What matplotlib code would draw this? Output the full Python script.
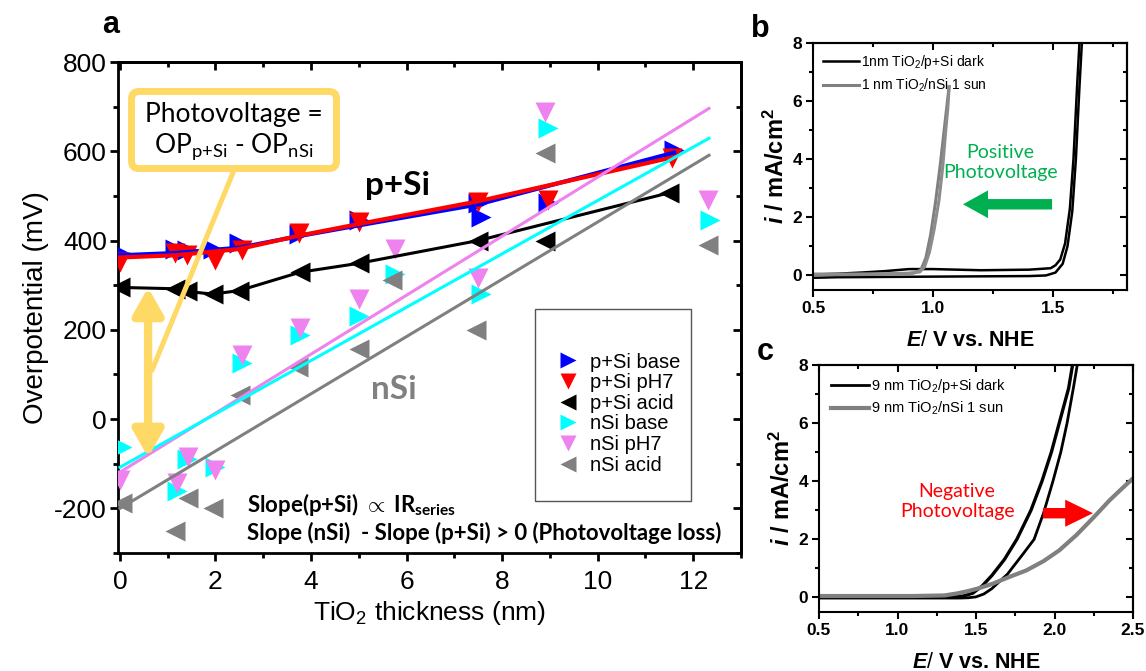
import numpy as np
import matplotlib
matplotlib.use('Agg')
import matplotlib.pyplot as plt
from matplotlib.patches import FancyBboxPatch, Rectangle
from matplotlib.ticker import MultipleLocator

plt.rcParams['font.family'] = ['Liberation Sans', 'DejaVu Sans']
plt.rcParams['mathtext.fontset'] = 'custom'
plt.rcParams['mathtext.rm'] = 'Liberation Sans'
plt.rcParams['mathtext.it'] = 'Liberation Sans:italic:bold'
plt.rcParams['mathtext.bf'] = 'Liberation Sans:bold'
plt.rcParams['axes.unicode_minus'] = False

ANNOT = ['Lato', 'DejaVu Sans']
ORANGE = '#FFD966'
GREEN = '#00B050'

# ---- panel a : overpotential vs TiO2 thickness (markers) ----
p_base_x = [0.0, 1.15, 1.4, 1.95, 2.5, 3.75, 5.0, 7.5, 7.55, 8.95, 11.6]
p_base_y = [371, 382, 378, 382, 394, 415, 445, 484, 452, 485, 602]
p_ph7_x = [0.0, 1.15, 1.4, 2.0, 2.55, 3.75, 5.0, 7.5, 8.95, 11.55]
p_ph7_y = [351, 371, 367, 356, 378, 418, 441, 486, 490, 586]
p_acid_x = [0.0, 1.15, 1.4, 1.95, 2.5, 3.77, 5.0, 7.5, 8.9, 11.5]
p_acid_y = [295, 292, 286, 280, 288, 329, 349, 400, 400, 507]

n_base_x = [0.05, 1.2, 1.4, 2.0, 2.55, 3.77, 5.0, 5.75, 7.55, 8.95, 12.35]
n_base_y = [-63, -160, -90, -108, 125, 188, 232, 326, 281, 653, 445]
n_ph7_x = [0.0, 1.2, 1.43, 2.0, 2.55, 3.77, 5.0, 5.75, 7.5, 8.9, 12.3]
n_ph7_y = [-137, -144, -86, -115, 143, 205, 270, 382, 315, 687, 490]
n_acid_x = [0.05, 1.15, 1.43, 1.95, 2.52, 3.73, 5.0, 5.7, 7.45, 8.9, 12.3]
n_acid_y = [-187, -250, -177, -199, 53, 116, 158, 311, 199, 597, 389]

# connecting lines of the p+Si series
line_base_x = [0.0, 1.15, 2.5, 3.75, 5.0, 7.5, 11.6]
line_base_y = [367, 372, 384, 410, 434, 481, 597]
line_ph7_x = [0.0, 1.15, 2.5, 3.75, 5.0, 7.5, 11.55]
line_ph7_y = [362, 367, 381, 411, 437, 488, 586]
line_acid_x = [0.0, 1.15, 1.4, 1.95, 2.5, 3.77, 5.0, 7.5, 11.5]
line_acid_y = [295, 292, 286, 280, 288, 329, 349, 400, 507]

# linear fits of the nSi data, read at both ends
fit_x = [0.0, 12.33]
fit_base = [-108, 629]
fit_ph7 = [-119, 696]
fit_acid = [-200, 591]

# ---- panel b : 1 nm TiO2 ----
b_dark_E1 = [0.50, 0.60, 0.80, 1.00, 1.20, 1.40, 1.47, 1.51, 1.54, 1.56, 1.58, 1.595, 1.61, 1.62]
b_dark_i1 = [-0.08, -0.06, -0.05, -0.04, -0.03, -0.02, 0.00, 0.10, 0.40, 1.00, 2.20, 4.00, 6.50, 8.00]
b_dark_E2 = [1.61, 1.60, 1.585, 1.57, 1.55, 1.53, 1.51, 1.49, 1.40, 1.20, 1.00, 0.90, 0.80, 0.70, 0.60, 0.50]
b_dark_i2 = [8.00, 6.50, 4.00, 2.30, 1.10, 0.55, 0.35, 0.25, 0.20, 0.18, 0.22, 0.22, 0.15, 0.10, 0.06, 0.03]
b_light_E1 = [0.50, 0.70, 0.85, 0.92, 0.95, 0.97, 0.99, 1.01, 1.03, 1.045, 1.06, 1.067]
b_light_i1 = [0.02, 0.03, 0.05, 0.08, 0.20, 0.60, 1.40, 2.50, 3.80, 4.90, 6.00, 6.50]
b_light_E2 = [1.067, 1.062, 1.052, 1.04, 1.025, 1.005, 0.985, 0.965, 0.945, 0.90, 0.80, 0.65, 0.50]
b_light_i2 = [6.50, 5.80, 4.90, 3.70, 2.60, 1.60, 0.80, 0.30, 0.12, 0.08, 0.06, 0.05, 0.05]
b_xticks = [0.5, 1.0, 1.5]

# ---- panel c : 9 nm TiO2 ----
c_dark_E1 = [0.50, 0.80, 1.10, 1.30, 1.40, 1.45, 1.50, 1.55, 1.60, 1.70, 1.80, 1.87, 1.93, 1.99, 2.04, 2.08, 2.12, 2.145]
c_dark_i1 = [-0.02, -0.02, -0.02, -0.02, -0.02, -0.01, 0.02, 0.12, 0.30, 0.80, 1.50, 2.00, 2.90, 4.00, 5.00, 6.00, 7.20, 8.00]
c_dark_E2 = [2.115, 2.09, 2.06, 2.03, 1.98, 1.92, 1.85, 1.76, 1.68, 1.60, 1.54, 1.48, 1.42, 1.35, 1.10, 0.80, 0.50]
c_dark_i2 = [8.00, 7.20, 6.60, 6.00, 5.00, 4.00, 3.00, 2.00, 1.30, 0.75, 0.40, 0.15, 0.05, 0.03, 0.03, 0.03, 0.03]
c_light_E = [0.50, 0.80, 1.10, 1.30, 1.38, 1.45, 1.52, 1.61, 1.70, 1.82, 1.93, 2.03, 2.14, 2.25, 2.35, 2.43, 2.50]
c_light_i = [0.05, 0.05, 0.05, 0.07, 0.14, 0.22, 0.32, 0.48, 0.68, 0.93, 1.25, 1.62, 2.15, 2.76, 3.34, 3.75, 4.10]
c_xticks = [0.5, 1.0, 1.5, 2.0, 2.5]
iv_yticks = [0, 2, 4, 6, 8]


def frame(ax, xmaj, xmin, ymaj, ymin, lw, tlen):
    for s in ax.spines.values():
        s.set_linewidth(lw)
    ax.xaxis.set_major_locator(MultipleLocator(xmaj))
    ax.xaxis.set_minor_locator(MultipleLocator(xmin))
    ax.yaxis.set_major_locator(MultipleLocator(ymaj))
    ax.yaxis.set_minor_locator(MultipleLocator(ymin))
    ax.tick_params(which='major', direction='out', length=tlen, width=lw)
    ax.tick_params(which='minor', direction='out', length=tlen * 0.6, width=lw)
    top = ax.secondary_xaxis('top')
    top.xaxis.set_major_locator(MultipleLocator(xmaj))
    top.xaxis.set_minor_locator(MultipleLocator(xmin))
    top.tick_params(which='major', direction='in', length=tlen, width=lw, labeltop=False)
    top.tick_params(which='minor', direction='in', length=tlen * 0.6, width=lw)
    right = ax.secondary_yaxis('right')
    right.yaxis.set_major_locator(MultipleLocator(ymaj))
    right.yaxis.set_minor_locator(MultipleLocator(ymin))
    right.tick_params(which='major', direction='in', length=tlen, width=lw, labelright=False)
    right.tick_params(which='minor', direction='in', length=tlen * 0.6, width=lw)
    for s in list(top.spines.values()) + list(right.spines.values()):
        s.set_linewidth(lw)


def bold_ticks(ax, xt):
    ax.set_xticks(xt, labels=[f'{v:.1f}' for v in xt], fontweight='bold', fontsize=12.5)
    ax.set_yticks(iv_yticks, labels=[str(v) for v in iv_yticks], fontweight='bold', fontsize=12.5)
    ax.tick_params(axis='both', pad=3)


W, H = 1146, 671
fig = plt.figure(figsize=(W / 100, H / 100), dpi=100)


def box(l, t, r, b):
    return [l / W, 1 - b / H, (r - l) / W, (b - t) / H]


# ================= panel a =================
ax = fig.add_axes(box(118, 62, 741, 553))
ms = 14
ax.plot(p_base_x, p_base_y, ls='none', marker='>', ms=ms, color='#0000FF', mec='none', label='p+Si base', zorder=3)
ax.plot(p_ph7_x, p_ph7_y, ls='none', marker='v', ms=ms, color='#FF0000', mec='none', label='p+Si pH7', zorder=3)
ax.plot(p_acid_x, p_acid_y, ls='none', marker='<', ms=ms, color='black', mec='none', label='p+Si acid', zorder=3)
ax.plot(n_base_x, n_base_y, ls='none', marker='>', ms=ms, color='#00FFFF', mec='none', label='nSi base', zorder=3)
ax.plot(n_ph7_x, n_ph7_y, ls='none', marker='v', ms=ms, color='#EE82EE', mec='none', label='nSi pH7', zorder=3)
ax.plot(n_acid_x, n_acid_y, ls='none', marker='<', ms=ms, color='#808080', mec='none', label='nSi acid', zorder=3)

ax.plot(line_base_x, line_base_y, color='#0000FF', lw=3.0, zorder=4)
ax.plot(line_ph7_x, line_ph7_y, color='#FF0000', lw=3.0, zorder=4)
ax.plot(line_acid_x, line_acid_y, color='black', lw=2.2, zorder=4)

ax.plot(fit_x, fit_ph7, color='#EE82EE', lw=2.2, zorder=5)
ax.plot(fit_x, fit_base, color='#00FFFF', lw=2.2, zorder=5)
ax.plot(fit_x, fit_acid, color='#808080', lw=2.2, zorder=5)

ax.set_xlim(-0.04, 13.0)
ax.set_ylim(-300, 800)
frame(ax, 2, 1, 200, 100, 2.0, 6)
ax.tick_params(axis='both', labelsize=19)
ax.tick_params(axis='x', pad=6)
ax.tick_params(axis='y', pad=2)
ax.set_xlabel('TiO$_{\\mathregular{2}}$ thickness (nm)', fontsize=19, labelpad=4)
ax.set_ylabel('Overpotential (mV)', fontsize=20, labelpad=4)

ax.legend(loc='center', bbox_to_anchor=(0.805, 0.284), frameon=False, fontsize=14.5,
          handlelength=1.0, handletextpad=0.6, labelspacing=0.08, markerscale=0.8,
          borderpad=0.1)
ax.add_patch(Rectangle((0.669, 0.106), 0.251, 0.391, transform=ax.transAxes,
                       fill=False, ec='#555555', lw=1.0, zorder=6))

# photovoltage box and arrows
ax.add_patch(FancyBboxPatch((0.0217, 0.783), 0.329, 0.157, transform=ax.transAxes,
                            boxstyle='round,pad=0,rounding_size=0.012', mutation_aspect=623 / 491,
                            fc='white', ec=ORANGE, lw=5, zorder=7))
ax.text(0.186, 0.857, 'Photovoltage =\nOP$_{\\mathregular{p{+}Si}}$ - OP$_{\\mathregular{nSi}}$',
        transform=ax.transAxes, ha='center', va='center', fontsize=19, family=ANNOT,
        linespacing=1.2, zorder=8)
ax.annotate('', xy=(0.67, 109), xytext=(2.37, 553),
            arrowprops=dict(arrowstyle='-', color=ORANGE, lw=3.6, shrinkA=0, shrinkB=0), zorder=6)
ax.annotate('', xy=(0.59, 295), xytext=(0.59, -86),
            arrowprops=dict(arrowstyle='<|-|>,head_length=0.8,head_width=0.45', mutation_scale=20,
                            color=ORANGE, lw=6, shrinkA=0, shrinkB=0), zorder=6)

ax.text(5.8, 501, 'p+Si', fontsize=24, fontweight='bold', family=ANNOT, ha='center', va='baseline', zorder=8)
ax.text(5.74, 46, 'nSi', fontsize=24, fontweight='bold', family=ANNOT, color='#808080',
        ha='center', va='baseline', zorder=8)
ax.text(0.207, 0.0835, 'Slope(p+Si) $\\propto$ IR$_{\\mathregular{series}}$',
        transform=ax.transAxes, fontsize=16, fontweight='bold', family=ANNOT,
        ha='left', va='baseline', zorder=8)
ax.text(0.207, 0.0265, 'Slope (nSi)  - Slope (p+Si) > 0 (Photovoltage loss)',
        transform=ax.transAxes, fontsize=16, fontweight='bold', family=ANNOT,
        ha='left', va='baseline', zorder=8)

# ================= panel b =================
bx = fig.add_axes(box(813, 43, 1127, 290))
bx.plot(b_dark_E1, b_dark_i1, color='black', lw=1.8, label='1nm TiO$_{\\mathregular{2}}$/p+Si dark')
bx.plot(b_dark_E2, b_dark_i2, color='black', lw=1.8)
bx.plot(b_light_E1, b_light_i1, color='#808080', lw=2.2, label='1 nm TiO$_{\\mathregular{2}}$/nSi 1 sun')
bx.plot(b_light_E2, b_light_i2, color='#8c8c8c', lw=2.2)
bx.set_xlim(0.5, 1.808)
bx.set_ylim(-0.5, 8)
frame(bx, 0.5, 0.25, 2, 1, 1.5, 5)
bold_ticks(bx, b_xticks)
bx.set_xlabel('$\\mathit{E/}$ V vs. NHE', fontsize=15.5, fontweight='bold', labelpad=10)
bx.set_ylabel('$\\mathit{i}$ / mA/cm$^{\\mathregular{2}}$', fontsize=17, fontweight='bold', labelpad=2)
bx.legend(loc='upper left', bbox_to_anchor=(0.0, 1.0), frameon=False, fontsize=10,
          handlelength=2.6, handletextpad=0.15, labelspacing=0.45, borderaxespad=0.3)
bx.text(1.28, 3.88, 'Positive\nPhotovoltage', color=GREEN, fontsize=14, family=ANNOT,
        ha='center', va='center', linespacing=1.25)
bx.annotate('', xy=(1.125, 2.45), xytext=(1.496, 2.45),
            arrowprops=dict(arrowstyle='simple,head_length=1.8,head_width=2.0,tail_width=0.75',
                            mutation_scale=10, fc=GREEN, ec='none', shrinkA=0, shrinkB=0))

# ================= panel c =================
cx = fig.add_axes(box(819, 365, 1133, 612))
cx.plot(c_dark_E1, c_dark_i1, color='black', lw=2.0, label='9 nm TiO$_{\\mathregular{2}}$/p+Si dark')
cx.plot(c_dark_E2, c_dark_i2, color='black', lw=2.4)
cx.plot(c_light_E, c_light_i, color='#808080', lw=3.0, label='9 nm TiO$_{\\mathregular{2}}$/nSi 1 sun')
cx.set_xlim(0.5, 2.5)
cx.set_ylim(-0.5, 8)
frame(cx, 0.5, 0.25, 2, 1, 1.5, 5)
bold_ticks(cx, c_xticks)
cx.set_xlabel('$\\mathit{E/}$ V vs. NHE', fontsize=15.5, fontweight='bold', labelpad=10)
cx.set_ylabel('$\\mathit{i}$ / mA/cm$^{\\mathregular{2}}$', fontsize=17, fontweight='bold', labelpad=2)
cx.legend(loc='upper left', bbox_to_anchor=(0.0, 1.0), frameon=False, fontsize=10.5,
          handlelength=2.6, handletextpad=0.15, labelspacing=0.35, borderaxespad=0.4)
cx.text(1.38, 3.3, 'Negative\nPhotovoltage', color='#FF0000', fontsize=14, family=ANNOT,
        ha='center', va='center', linespacing=1.25)
cx.annotate('', xy=(2.245, 2.9), xytext=(1.927, 2.9),
            arrowprops=dict(arrowstyle='simple,head_length=2.0,head_width=1.95,tail_width=0.75',
                            mutation_scale=10, fc='#FF0000', ec='none', shrinkA=0, shrinkB=0))

# panel letters
fig.text(111 / W, 1 - 33 / H, 'a', fontsize=22, fontweight='bold', ha='center', va='baseline')
fig.text(760 / W, 1 - 37 / H, 'b', fontsize=22, fontweight='bold', ha='center', va='baseline')
fig.text(765 / W, 1 - 360 / H, 'c', fontsize=22, fontweight='bold', ha='center', va='baseline')

fig.savefig('out.png', dpi=100)
